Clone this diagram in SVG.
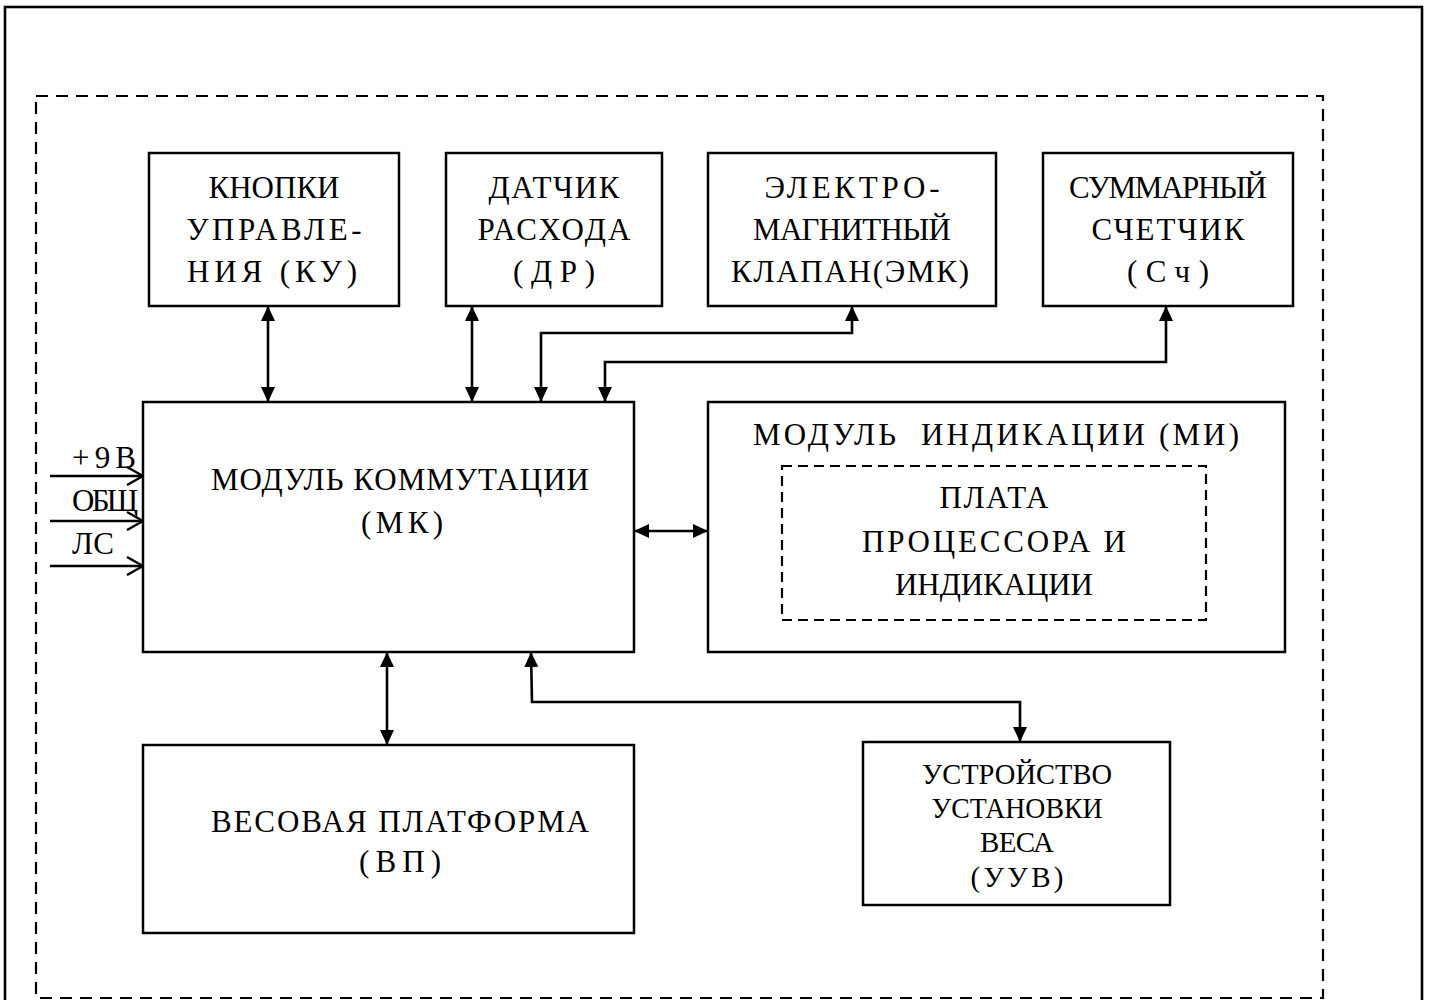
<svg xmlns="http://www.w3.org/2000/svg" width="1431" height="1000" viewBox="0 0 1431 1000">
<style>
.box{fill:#fff;stroke:#000;stroke-width:2.5}
.dash{fill:none;stroke:#000;stroke-width:2.2;stroke-dasharray:12 8}
.dash2{fill:none;stroke:#000;stroke-width:2.2;stroke-dasharray:10 6}
.t{font-family:"Liberation Serif","Times New Roman",serif;font-size:31px;fill:#000;text-anchor:middle}
.ts{font-family:"Liberation Serif","Times New Roman",serif;font-size:31px;fill:#000;text-anchor:start}
.tc{font-family:"Liberation Serif","Times New Roman",serif;font-size:29px;fill:#000;text-anchor:middle}
.c{fill:none;stroke:#000;stroke-width:2.6}
</style>
<defs>
<marker id="ah" viewBox="0 0 15 14" refX="15" refY="7" markerWidth="15" markerHeight="14" markerUnits="userSpaceOnUse" orient="auto-start-reverse">
<path d="M0,0 L15,7 L0,14 z" fill="#000"/>
</marker>
<marker id="oh" viewBox="0 0 18 20" refX="17" refY="10" markerWidth="18" markerHeight="20" markerUnits="userSpaceOnUse" orient="auto">
<path d="M1,1 L17,10 L1,19" fill="none" stroke="#000" stroke-width="2.4"/>
</marker>
</defs>
<rect width="1431" height="1000" fill="#fff"/>
<g id="frame">
<rect x="5" y="7" width="1417" height="1000" fill="none" stroke="#000" stroke-width="2.6"/>
<rect x="36" y="96" width="1287" height="902" class="dash"/>
</g>
<g id="connectors">
<line x1="268" y1="306" x2="268" y2="402" class="c" marker-start="url(#ah)" marker-end="url(#ah)"/>
<line x1="472" y1="306" x2="472" y2="402" class="c" marker-start="url(#ah)" marker-end="url(#ah)"/>
<polyline points="541,402 541,333 852,333 852,306" class="c" marker-start="url(#ah)" marker-end="url(#ah)"/>
<polyline points="605,402 605,362 1166,362 1166,306" class="c" marker-start="url(#ah)" marker-end="url(#ah)"/>
<line x1="634" y1="531" x2="708" y2="531" class="c" marker-start="url(#ah)" marker-end="url(#ah)"/>
<line x1="387" y1="652" x2="387" y2="745" class="c" marker-start="url(#ah)" marker-end="url(#ah)"/>
<polyline points="531,652 532,702 1020,702 1020,742" class="c" marker-start="url(#ah)" marker-end="url(#ah)"/>
<line x1="50" y1="476" x2="143" y2="476" class="c" marker-end="url(#oh)"/>
<line x1="50" y1="521" x2="143" y2="521" class="c" marker-end="url(#oh)"/>
<line x1="50" y1="566" x2="143" y2="566" class="c" marker-end="url(#oh)"/>
<text x="72" y="468" class="ts" textLength="64" lengthAdjust="spacing">+9В</text>
<text x="72" y="511" class="ts" textLength="66" lengthAdjust="spacing">ОБЩ</text>
<text x="72" y="554" class="ts" textLength="42" lengthAdjust="spacing">ЛС</text>
</g>
<g id="ku">
<rect x="149" y="153" width="250" height="153" class="box"/>
<text x="274" y="198" class="t" textLength="131" lengthAdjust="spacing">КНОПКИ</text>
<text x="274" y="240" class="t" textLength="175" lengthAdjust="spacing">УПРАВЛЕ-</text>
<text x="272" y="282" class="t" textLength="170" lengthAdjust="spacing">НИЯ (КУ)</text>
</g>
<g id="dr">
<rect x="446" y="153" width="216" height="153" class="box"/>
<text x="554" y="198" class="t" textLength="131" lengthAdjust="spacing">ДАТЧИК</text>
<text x="554" y="240" class="t" textLength="153" lengthAdjust="spacing">РАСХОДА</text>
<text x="554" y="282" class="t" textLength="82" lengthAdjust="spacing">(ДР)</text>
</g>
<g id="emk">
<rect x="708" y="153" width="288" height="153" class="box"/>
<text x="852" y="198" class="t" textLength="175" lengthAdjust="spacing">ЭЛЕКТРО-</text>
<text x="852" y="240" class="t" textLength="198" lengthAdjust="spacing">МАГНИТНЫЙ</text>
<text x="850" y="282" class="t" textLength="238" lengthAdjust="spacing">КЛАПАН(ЭМК)</text>
</g>
<g id="sch">
<rect x="1043" y="153" width="250" height="153" class="box"/>
<text x="1168" y="198" class="t" textLength="198" lengthAdjust="spacing">СУММАРНЫЙ</text>
<text x="1168" y="240" class="t" textLength="153" lengthAdjust="spacing">СЧЕТЧИК</text>
<text x="1168" y="282" class="t" textLength="82" lengthAdjust="spacing">(Сч)</text>
</g>
<g id="mk">
<rect x="143" y="402" width="491" height="250" class="box"/>
<text x="400" y="490" class="t" textLength="378" lengthAdjust="spacing">МОДУЛЬ КОММУТАЦИИ</text>
<text x="402" y="533" class="t" textLength="82" lengthAdjust="spacing">(МК)</text>
</g>
<g id="mi">
<rect x="708" y="402" width="577" height="250" class="box"/>
<text x="996" y="445" class="t" textLength="486" lengthAdjust="spacing" xml:space="preserve">МОДУЛЬ  ИНДИКАЦИИ (МИ)</text>
</g>
<g id="plata">
<rect x="782" y="466" width="424" height="154" class="dash2"/>
<text x="994" y="508" class="t" textLength="109" lengthAdjust="spacing">ПЛАТА</text>
<text x="994" y="552" class="t" textLength="264" lengthAdjust="spacing">ПРОЦЕССОРА И</text>
<text x="994" y="595" class="t" textLength="198" lengthAdjust="spacing">ИНДИКАЦИИ</text>
</g>
<g id="vp">
<rect x="143" y="745" width="491" height="188" class="box"/>
<text x="400" y="832" class="t" textLength="378" lengthAdjust="spacing">ВЕСОВАЯ ПЛАТФОРМА</text>
<text x="400" y="872" class="t" textLength="82" lengthAdjust="spacing">(ВП)</text>
</g>
<g id="uuv">
<rect x="863" y="742" width="307" height="163" class="box"/>
<text x="1017" y="784" class="tc" textLength="190" lengthAdjust="spacingAndGlyphs">УСТРОЙСТВО</text>
<text x="1017" y="818" class="tc" textLength="171" lengthAdjust="spacingAndGlyphs">УСТАНОВКИ</text>
<text x="1017" y="852" class="tc" textLength="74" lengthAdjust="spacing">ВЕСА</text>
<text x="1017" y="887" class="tc" textLength="93" lengthAdjust="spacing">(УУВ)</text>
</g>
</svg>
